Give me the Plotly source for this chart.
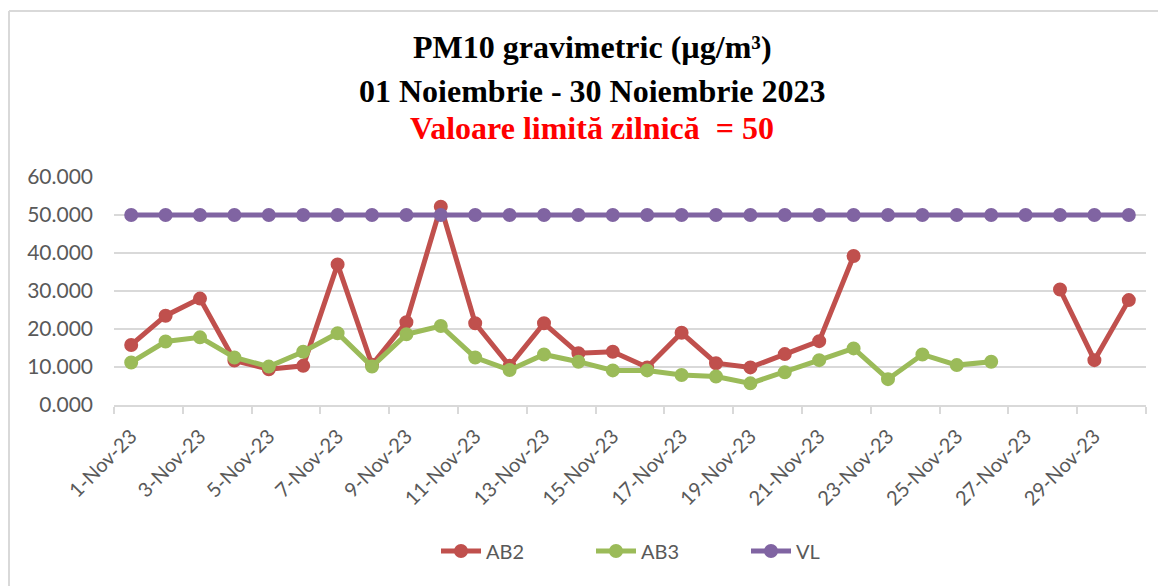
import pandas as pd
import plotly.graph_objects as go

# ---- data ----
dates = [f"2023-11-{d:02d}" for d in range(1, 31)]
ab2 = [15.8, 23.5, 28.0, 11.7, 9.4, 10.3, 37.0, 10.6, 21.8, 52.2,
       21.5, 10.3, 21.5, 13.6, 14.0, 9.9, 19.0, 11.0, 9.9, 13.4,
       16.8, 39.2, None, None, None, None, None, 30.4, 11.8, 27.6]
ab3 = [11.2, 16.7, 17.8, 12.5, 10.1, 14.0, 18.9, 10.1, 18.6, 20.8,
       12.5, 9.2, 13.3, 11.4, 9.1, 9.1, 7.9, 7.5, 5.7, 8.6,
       11.8, 14.9, 6.8, 13.3, 10.5, 11.4, None, None, None, None]
vl = [50] * 30
tick_labels = ["1-Nov-23", "3-Nov-23", "5-Nov-23", "7-Nov-23", "9-Nov-23",
               "11-Nov-23", "13-Nov-23", "15-Nov-23", "17-Nov-23", "19-Nov-23",
               "21-Nov-23", "23-Nov-23", "25-Nov-23", "27-Nov-23", "29-Nov-23"]
y_ticks = [0, 10, 20, 30, 40, 50, 60]

series = [("AB2", ab2, "#C0504D"), ("AB3", ab3, "#9BBB59"), ("VL", vl, "#8064A2")]

x = pd.to_datetime(dates)
half = pd.Timedelta(hours=12)
bounds = list(x - half) + [x[-1] + half]

fig = go.Figure()
for name, vals, col in series:
    fig.add_trace(go.Scatter(
        x=x, y=vals, name=name, mode="lines+markers",
        line=dict(color=col, width=5),
        marker=dict(color=col, size=12, line=dict(color=col, width=2)),
        connectgaps=False,
    ))

# page body has an 8px margin: compensate so the picture lines up with the window
OFF = 8
W, H = 1166 - OFF, 586 - OFF
PL, PR, PT, PB = 114, 1146, 177, 405          # plot box in window pixels
L, R, T, B = PL - OFF, W - (PR - OFF), PT - OFF, H - (PB - OFF)
pw, ph = W - L - R, H - T - B

def px(v):
    return (v - PL) / pw

def py(v):
    return (PB - v) / ph

grey = "#595959"
fig.update_layout(
    width=W, height=H,
    margin=dict(l=L, r=R, t=T, b=B, autoexpand=False),
    paper_bgcolor="white", plot_bgcolor="white",
    showlegend=True,
    legend=dict(orientation="h", x=px(436), xanchor="left", y=py(551), yanchor="middle",
                font=dict(family="Lato", size=20, color=grey), itemwidth=40,
                entrywidth=100, entrywidthmode="pixels",
                traceorder="normal"),
    xaxis=dict(
        type="date", automargin=False,
        range=[bounds[0], bounds[-1]],
        tickmode="array", tickvals=list(x[::2]), ticktext=tick_labels,
        tickangle=-45, ticks="", showgrid=False, ticklabelstandoff=10,
        tickfont=dict(family="Lato", size=20, color=grey),
        showline=True, linecolor="#D9D9D9", linewidth=1.5,
        minor=dict(tickmode="array", tickvals=bounds[::2], ticks="outside",
                   ticklen=7, tickcolor="#D9D9D9", tickwidth=1.5, showgrid=False),
        zeroline=False,
    ),
    yaxis=dict(
        automargin=False,
        range=[0, 60], tickmode="array", tickvals=y_ticks,
        ticktext=[f"{v:.3f}" for v in y_ticks],
        showgrid=True, gridcolor="#D9D9D9", gridwidth=1.5,
        tickfont=dict(family="Lato", size=21, color=grey),
        zeroline=False, showline=False, ticks="", ticklabelstandoff=20,
    ),
)

title_font = "Liberation Serif"
for txt, yy, col in [("<b>PM10 gravimetric (µg/m³)</b>", 47, "black"),
                     ("<b>01 Noiembrie - 30 Noiembrie 2023</b>", 91, "black"),
                     ("<b>Valoare limită zilnică\u00a0 = 50</b>", 128, "#FF0000")]:
    fig.add_annotation(text=txt, x=px(592), y=py(yy),
                       xref="paper", yref="paper", showarrow=False,
                       xanchor="center", yanchor="middle",
                       font=dict(family=title_font, size=32, color=col))

# outer chart border (left and top edges visible)
fig.add_shape(type="line", xref="paper", yref="paper", x0=px(9), x1=px(9), y0=py(600), y1=py(11),
              line=dict(color="#D9D9D9", width=2))
fig.add_shape(type="line", xref="paper", yref="paper", x0=px(9), x1=px(1180), y0=py(11), y1=py(11),
              line=dict(color="#D9D9D9", width=2))

fig.write_html("out.html")
